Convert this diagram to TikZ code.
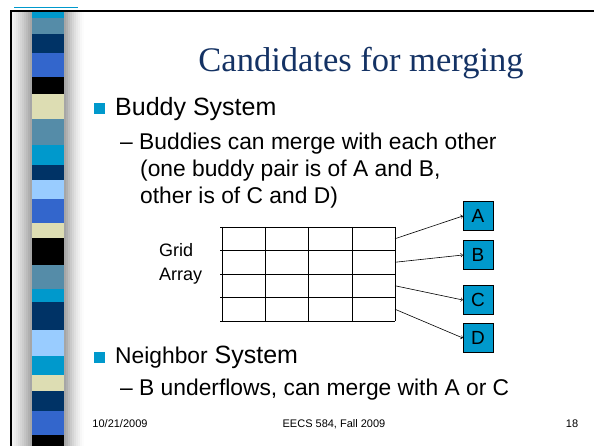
\documentclass[tikz,border=0pt]{standalone}
\usepackage{fontspec}
\setmainfont{Liberation Sans}
\newfontfamily\titlefont{Liberation Serif}
\definecolor{stripeA}{RGB}{0,153,204}
\definecolor{stripeB}{RGB}{85,140,168}
\definecolor{stripeC}{RGB}{0,51,102}
\definecolor{stripeD}{RGB}{51,102,204}
\definecolor{stripeF}{RGB}{221,221,179}
\definecolor{stripeG}{RGB}{153,204,255}
\definecolor{titleblue}{RGB}{20,50,100}
\definecolor{shadowgray}{RGB}{150,150,150}
\tikzset{title/.style = {anchor=base, text=titleblue, font=\titlefont\fontsize{34.5}{40}\selectfont}}
\tikzset{head/.style = {anchor=base west, inner sep=0pt, font=\fontsize{25}{30}\selectfont}}
\tikzset{sub/.style = {anchor=base west, inner sep=0pt, font=\fontsize{22.8}{27}\selectfont}}
\tikzset{bullet/.style = {rectangle, fill=stripeA, minimum size=11pt, inner sep=0pt}}
\tikzset{box/.style = {rectangle, draw, fill=stripeA, minimum width=30pt, minimum height=29pt, inner sep=0pt, font=\fontsize{19}{22}\selectfont}}
\tikzset{foot/.style = {anchor=base, inner sep=0pt, font=\fontsize{11}{13}\selectfont}}

\begin{document}
\begin{tikzpicture}[x=1pt, y=-1pt]
		\useasboundingbox (0,0) rectangle (594,446);
		% Shadow
		\foreach \k/\op in {0/0.12, 2/0.18, 4/0.25, 6/0.32, 8/0.4, 10/0.48, 12/0.56, 14/0.65, 16/0.75, 18/0.85}
			\fill[shadowgray, opacity=\op] (12+\k,11) rectangle (14.1+\k,446);
		\foreach \k/\op in {0/0.85, 2/0.75, 4/0.62, 6/0.5, 8/0.4, 10/0.3, 12/0.22, 14/0.15, 16/0.08, 18/0.03}
			\fill[shadowgray, opacity=\op] (64+\k,11) rectangle (66.1+\k,446);
		% Stripes
		\foreach \ya/\yb/\col in {11/18/stripeA, 18/34/stripeB, 34/53/stripeC, 53/77/stripeD,
				77/94/black, 94/119/stripeF, 119/145/stripeB, 145/165/stripeA, 165/180/stripeC,
				180/199/stripeG, 199/223/stripeD, 223/238/stripeF, 238/265/black, 265/289/stripeB,
				289/302/stripeA, 302/330/stripeC, 330/356/stripeG, 356/375/stripeA, 375/391/stripeF,
				391/411/stripeC, 411/435/stripeD, 435/446/black}
			\fill[\col] (32,\ya) rectangle (64,\yb);
		\draw[line width=1.5pt] (11,446) -- (11,11) -- (594,11);
		\draw[stripeA, line width=1.5pt] (14,7.5) -- (78,7.5);
		% Text
		\node[title] (ttl) at (361,72) {Candidates for merging};
		\node[bullet] (b1) at (99,108.5) {};
		\node[head]   (h1) at (115,116) {Buddy System};
		\node[sub]    (s1) at (120,150) {-- Buddies can merge with each other};
		\node[sub]    (s2) at (140,177) {(one buddy pair is of A and B,};
		\node[sub]    (s3) at (140,204) {other is of C and D)};
		\node[bullet] (b2) at (99,357) {};
		\node[head]   (h2) at (115,363) {{\fontsize{22.8}{27}\selectfont Neighbor} System};
		\node[sub]    (s4) at (120,395) {-- B underflows, can merge with A or C};
		\node[anchor=base west, inner sep=0pt, font=\fontsize{18}{21}\selectfont] (g1) at (159,257) {Grid};
		\node[anchor=base west, inner sep=0pt, font=\fontsize{18}{21}\selectfont] (g2) at (159,280) {Array};
		\node[foot] (f1) at (120,427) {10/21/2009};
		\node[foot] (f2) at (334,427) {EECS 584, Fall 2009};
		\node[foot] (f3) at (572,427) {18};
		% Grid
		\foreach \i in {0,...,4}
			\draw (220,227+23.5*\i) -- (395,227+23.5*\i);
		\foreach \j in {0,1,3,4}
			\draw (222+43.25*\j,227) -- (222+43.25*\j,321);
		\draw[line width=1.2pt] (308.5,227) -- (308.5,321);
		\foreach \i in {1,...,4}
			\coordinate (r\i) at (395,215.25+23.5*\i);
		% Boxes
		\node[box] (A) at (478,216) {A};
		\node[box] (B) at (478,255) {B};
		\node[box] (C) at (478,300) {C};
		\node[box] (D) at (478,338) {D};
		% Arrows
		\foreach \from/\to in {r1/A, r2/B, r3/C, r4/D}
			\draw [->, line width=0.6pt] (\from) -- (\to.west);
		\end{tikzpicture}
\end{document}
